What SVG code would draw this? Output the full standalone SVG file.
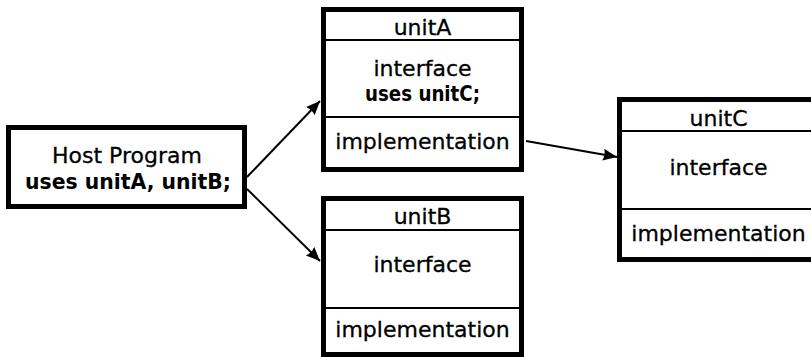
<svg xmlns="http://www.w3.org/2000/svg" width="811" height="357" viewBox="0 0 811 357">
<style>
.box{fill:#fff;stroke:#000;stroke-width:5}
.sep{stroke:#000;stroke-width:2}
.t{font-family:"DejaVu Sans","Liberation Sans",sans-serif;font-size:22px;fill:#000;stroke:#000;stroke-width:0.3;text-anchor:middle}
.b{font-weight:bold;stroke-width:0}
.conn{stroke:#000;stroke-width:2;fill:none}
</style>
<defs>
<marker id="ah" markerUnits="userSpaceOnUse" markerWidth="16" markerHeight="14" refX="14" refY="6.5" orient="auto">
<path d="M0,0.5 L14,6.5 L0,12.5 Q2.5,6.5 0,0.5 z" fill="#000"/>
</marker>
</defs>
<rect width="811" height="357" fill="#fff"/>
<g id="connectors">
<line class="conn" x1="247" y1="177" x2="320" y2="101" marker-end="url(#ah)"/>
<line class="conn" x1="247" y1="189" x2="320" y2="261" marker-end="url(#ah)"/>
<line class="conn" x1="526" y1="141" x2="617" y2="157" marker-end="url(#ah)"/>
</g>
<g id="host">
<rect class="box" x="8.5" y="127.5" width="236" height="79"/>
<text class="t" x="127" y="163">Host Program</text>
<text class="t b" x="128" y="189" textLength="206" lengthAdjust="spacingAndGlyphs">uses unitA, unitB;</text>
</g>
<g id="unitA">
<rect class="box" x="323.5" y="9.5" width="198" height="160"/>
<line class="sep" x1="326" y1="40" x2="519" y2="40"/>
<line class="sep" x1="326" y1="117" x2="519" y2="117"/>
<text class="t" x="422.5" y="35">unitA</text>
<text class="t" x="422.5" y="76">interface</text>
<text class="t b" x="422.5" y="101" textLength="115" lengthAdjust="spacingAndGlyphs">uses unitC;</text>
<text class="t" x="422.5" y="149">implementation</text>
</g>
<g id="unitB">
<rect class="box" x="323.5" y="198.5" width="198" height="156"/>
<line class="sep" x1="326" y1="230" x2="519" y2="230"/>
<line class="sep" x1="326" y1="308" x2="519" y2="308"/>
<text class="t" x="422.5" y="224">unitB</text>
<text class="t" x="422.5" y="272">interface</text>
<text class="t" x="422.5" y="337">implementation</text>
</g>
<g id="unitC">
<rect class="box" x="619.5" y="99.5" width="198" height="160"/>
<line class="sep" x1="622" y1="131" x2="815" y2="131"/>
<line class="sep" x1="622" y1="209" x2="815" y2="209"/>
<text class="t" x="718.5" y="126">unitC</text>
<text class="t" x="718.5" y="175">interface</text>
<text class="t" x="718.5" y="241">implementation</text>
</g>
</svg>
